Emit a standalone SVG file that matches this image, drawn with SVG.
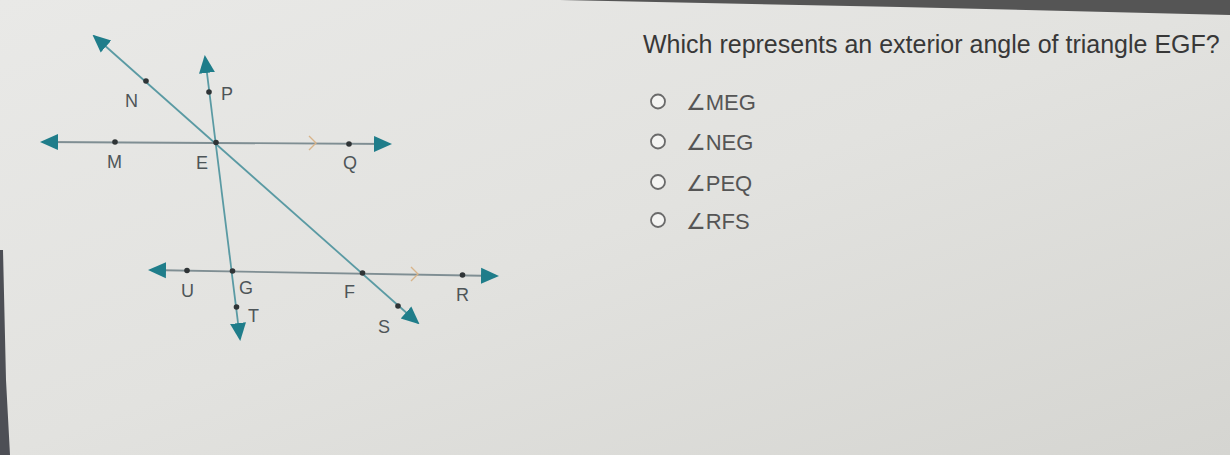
<svg xmlns="http://www.w3.org/2000/svg" width="1230" height="455" viewBox="0 0 1230 455">
<defs>
<linearGradient id="bg" x1="0" y1="0" x2="1" y2="1">
<stop offset="0" stop-color="#e9e9e7"/>
<stop offset="0.5" stop-color="#e2e2df"/>
<stop offset="1" stop-color="#d5d5d1"/>
</linearGradient>
<marker id="arr" viewBox="0 0 18 18" refX="16" refY="9" markerWidth="18" markerHeight="18" markerUnits="userSpaceOnUse" orient="auto-start-reverse">
<path d="M0,1 L18,9 L0,17 Z" fill="#1f7d8a"/>
</marker>
<style>
.ln{stroke:#5a9aa3;stroke-width:1.8;fill:none}
.hz{stroke:#7f8e93;stroke-width:1.8;fill:none}
.par{stroke:#d8b48a;stroke-width:1.4;fill:none}
.dot{fill:#2f3436}
.lbl{font-family:"Liberation Sans",Arial,sans-serif;font-size:18px;fill:#4e5558}
.q{font-family:"Liberation Sans",Arial,sans-serif;font-size:25px;fill:#383838}
.opt{font-family:"Liberation Sans","DejaVu Sans",Arial,sans-serif;font-size:22px;fill:#555}
.rad{fill:#f4f4f2;stroke:#6a6a6a;stroke-width:1.8}
</style>
</defs>
<rect width="1230" height="455" fill="url(#bg)"/>
<polygon points="560,0 1230,0 1230,15 900,7" fill="#555"/>
<polygon points="0,250 3,250 6,380 10,455 0,455" fill="#4d4f55"/>

<g id="connectors">
<line class="hz" x1="42" y1="142" x2="390" y2="144" marker-start="url(#arr)" marker-end="url(#arr)"/>
<line class="hz" x1="150" y1="270" x2="497" y2="276" marker-start="url(#arr)" marker-end="url(#arr)"/>
<line class="ln" x1="94" y1="36" x2="418" y2="323" marker-start="url(#arr)" marker-end="url(#arr)"/>
<line class="ln" x1="205" y1="57" x2="240" y2="339" marker-start="url(#arr)" marker-end="url(#arr)"/>
<polyline class="par" points="309,136 316,143 309,150"/>
<polyline class="par" points="411,267 418,274 411,281"/>
</g>

<g id="node-N"><circle class="dot" cx="146" cy="81" r="2.8"/><text class="lbl" x="125" y="107">N</text></g>
<g id="node-P"><circle class="dot" cx="209" cy="92" r="2.8"/><text class="lbl" x="221" y="100">P</text></g>
<g id="node-M"><circle class="dot" cx="115" cy="142" r="2.8"/><text class="lbl" x="107" y="168">M</text></g>
<g id="node-E"><circle class="dot" cx="216" cy="142.5" r="2.8"/><text class="lbl" x="196" y="169">E</text></g>
<g id="node-Q"><circle class="dot" cx="349" cy="144" r="2.8"/><text class="lbl" x="343" y="169">Q</text></g>
<g id="node-U"><circle class="dot" cx="187" cy="270.5" r="2.8"/><text class="lbl" x="181" y="297">U</text></g>
<g id="node-G"><circle class="dot" cx="232.5" cy="271" r="2.8"/><text class="lbl" x="239" y="294">G</text></g>
<g id="node-F"><circle class="dot" cx="362.5" cy="273" r="2.8"/><text class="lbl" x="344" y="298">F</text></g>
<g id="node-R"><circle class="dot" cx="462.5" cy="275" r="2.8"/><text class="lbl" x="456" y="301">R</text></g>
<g id="node-T"><circle class="dot" cx="236.5" cy="307" r="2.8"/><text class="lbl" x="248" y="322">T</text></g>
<g id="node-S"><circle class="dot" cx="398" cy="306" r="2.8"/><text class="lbl" x="378" y="333">S</text></g>

<g id="question">
<text class="q" x="643" y="53">Which represents an exterior angle of triangle EGF?</text>
</g>
<g id="option-1"><circle class="rad" cx="658" cy="101.5" r="7"/><text class="opt" x="686" y="110">∠MEG</text></g>
<g id="option-2"><circle class="rad" cx="658" cy="141.5" r="7"/><text class="opt" x="686" y="150">∠NEG</text></g>
<g id="option-3"><circle class="rad" cx="658" cy="182" r="7"/><text class="opt" x="686" y="190.5">∠PEQ</text></g>
<g id="option-4"><circle class="rad" cx="658" cy="220" r="7"/><text class="opt" x="686" y="228.5">∠RFS</text></g>
</svg>
